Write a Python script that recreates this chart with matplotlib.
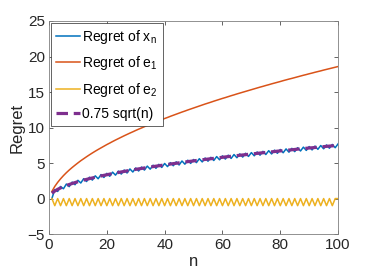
import matplotlib
matplotlib.use("Agg")
import matplotlib.pyplot as plt

plt.rcParams['font.family'] = ['Liberation Sans', 'DejaVu Sans']

n = list(range(1, 101))

# Regret of x_n (zigzag around 0.75 sqrt(n))
regret_x = [
    0.00, 1.26, 1.00, 1.70, 1.38, 2.04, 1.68, 2.32, 1.95, 2.57,
    2.19, 2.80, 2.40, 3.01, 2.60, 3.20, 2.79, 3.38, 2.97, 3.55,
    3.14, 3.72, 3.30, 3.87, 3.45, 4.02, 3.60, 4.17, 3.74, 4.31,
    3.88, 4.44, 4.01, 4.57, 4.14, 4.70, 4.26, 4.82, 4.38, 4.94,
    4.50, 5.06, 4.62, 5.17, 4.73, 5.29, 4.84, 5.40, 4.95, 5.50,
    5.06, 5.61, 5.16, 5.71, 5.26, 5.81, 5.36, 5.91, 5.46, 6.01,
    5.56, 6.11, 5.65, 6.20, 5.75, 6.29, 5.84, 6.38, 5.93, 6.47,
    6.02, 6.56, 6.11, 6.65, 6.20, 6.74, 6.28, 6.82, 6.37, 6.91,
    6.45, 6.99, 6.53, 7.07, 6.61, 7.16, 6.70, 7.24, 6.78, 7.32,
    6.85, 7.39, 6.93, 7.47, 7.01, 7.55, 7.09, 7.62, 7.16, 7.70,
]

# Regret of e_1
regret_e1 = [
    1.00, 1.71, 2.28, 2.78, 3.23, 3.64, 4.02, 4.37, 4.70, 5.02,
    5.33, 5.61, 5.89, 6.16, 6.42, 6.67, 6.91, 7.14, 7.37, 7.60,
    7.81, 8.03, 8.24, 8.44, 8.64, 8.84, 9.03, 9.22, 9.40, 9.59,
    9.77, 9.94, 10.12, 10.29, 10.46, 10.62, 10.79, 10.95, 11.11, 11.27,
    11.42, 11.58, 11.73, 11.88, 12.03, 12.18, 12.32, 12.47, 12.61, 12.75,
    12.89, 13.03, 13.17, 13.31, 13.44, 13.57, 13.71, 13.84, 13.97, 14.10,
    14.22, 14.35, 14.48, 14.60, 14.73, 14.85, 14.97, 15.09, 15.21, 15.33,
    15.45, 15.57, 15.69, 15.80, 15.92, 16.03, 16.15, 16.26, 16.37, 16.48,
    16.60, 16.71, 16.82, 16.92, 17.03, 17.14, 17.25, 17.36, 17.46, 17.57,
    17.67, 17.78, 17.88, 17.98, 18.09, 18.19, 18.29, 18.39, 18.49, 18.59,
]

# Regret of e_2
regret_e2 = [
    0.0, -1.0, 0.0, -1.0, 0.0, -1.0, 0.0, -1.0, 0.0, -1.0,
    0.0, -1.0, 0.0, -1.0, 0.0, -1.0, 0.0, -1.0, 0.0, -1.0,
    0.0, -1.0, 0.0, -1.0, 0.0, -1.0, 0.0, -1.0, 0.0, -1.0,
    0.0, -1.0, 0.0, -1.0, 0.0, -1.0, 0.0, -1.0, 0.0, -1.0,
    0.0, -1.0, 0.0, -1.0, 0.0, -1.0, 0.0, -1.0, 0.0, -1.0,
    0.0, -1.0, 0.0, -1.0, 0.0, -1.0, 0.0, -1.0, 0.0, -1.0,
    0.0, -1.0, 0.0, -1.0, 0.0, -1.0, 0.0, -1.0, 0.0, -1.0,
    0.0, -1.0, 0.0, -1.0, 0.0, -1.0, 0.0, -1.0, 0.0, -1.0,
    0.0, -1.0, 0.0, -1.0, 0.0, -1.0, 0.0, -1.0, 0.0, -1.0,
    0.0, -1.0, 0.0, -1.0, 0.0, -1.0, 0.0, -1.0, 0.0, 0.0,
]

# 0.75 sqrt(n)
bound = [
    0.75, 1.06, 1.30, 1.50, 1.68, 1.84, 1.98, 2.12, 2.25, 2.37,
    2.49, 2.60, 2.70, 2.81, 2.90, 3.00, 3.09, 3.18, 3.27, 3.35,
    3.44, 3.52, 3.60, 3.67, 3.75, 3.82, 3.90, 3.97, 4.04, 4.11,
    4.18, 4.24, 4.31, 4.37, 4.44, 4.50, 4.56, 4.62, 4.68, 4.74,
    4.80, 4.86, 4.92, 4.97, 5.03, 5.09, 5.14, 5.20, 5.25, 5.30,
    5.36, 5.41, 5.46, 5.51, 5.56, 5.61, 5.66, 5.71, 5.76, 5.81,
    5.86, 5.91, 5.95, 6.00, 6.05, 6.09, 6.14, 6.18, 6.23, 6.27,
    6.32, 6.36, 6.41, 6.45, 6.50, 6.54, 6.58, 6.62, 6.67, 6.71,
    6.75, 6.79, 6.83, 6.87, 6.91, 6.96, 7.00, 7.04, 7.08, 7.12,
    7.15, 7.19, 7.23, 7.27, 7.31, 7.35, 7.39, 7.42, 7.46, 7.50,
]

fig = plt.figure(figsize=(3.74, 2.8), dpi=100)
ax = fig.add_axes([0.131, 0.164, 0.773, 0.761])

ax.plot(n, regret_x, color='#0072BD', lw=1.1, label='Regret of x$_\\mathregular{n}$')
ax.plot(n, regret_e1, color='#D95319', lw=1.1, label='Regret of e$_\\mathregular{1}$')
ax.plot(n, regret_e2, color='#EDB120', lw=1.1, label='Regret of e$_\\mathregular{2}$')
ax.plot(n, bound, color='#7E2F8E', lw=2.3, ls=(0, (3.6, 1.8)), label='0.75 sqrt(n)')

ax.set_xlim(0, 100)
ax.set_ylim(-5, 25)
ax.set_xticks([0, 20, 40, 60, 80, 100])
ax.set_yticks([-5, 0, 5, 10, 15, 20, 25])
ax.tick_params(direction='in', length=3, width=0.5, top=True, right=True,
               labelsize=11, colors='#262626', pad=3)
for s in ax.spines.values():
    s.set_linewidth(0.6)
    s.set_color('#7f7f7f')

ax.set_xlabel('n', fontsize=12, color='#262626', labelpad=1)
ax.set_ylabel('Regret', fontsize=12, color='#262626', labelpad=2)

leg = ax.legend(loc='upper left', fontsize=10, handlelength=1.75, handletextpad=0.15,
                borderaxespad=0.15, borderpad=0.35, labelspacing=0.6,
                fancybox=False, framealpha=1)
leg.get_frame().set_edgecolor('#262626')
leg.get_frame().set_linewidth(0.5)

fig.savefig('out.png', dpi=100)
